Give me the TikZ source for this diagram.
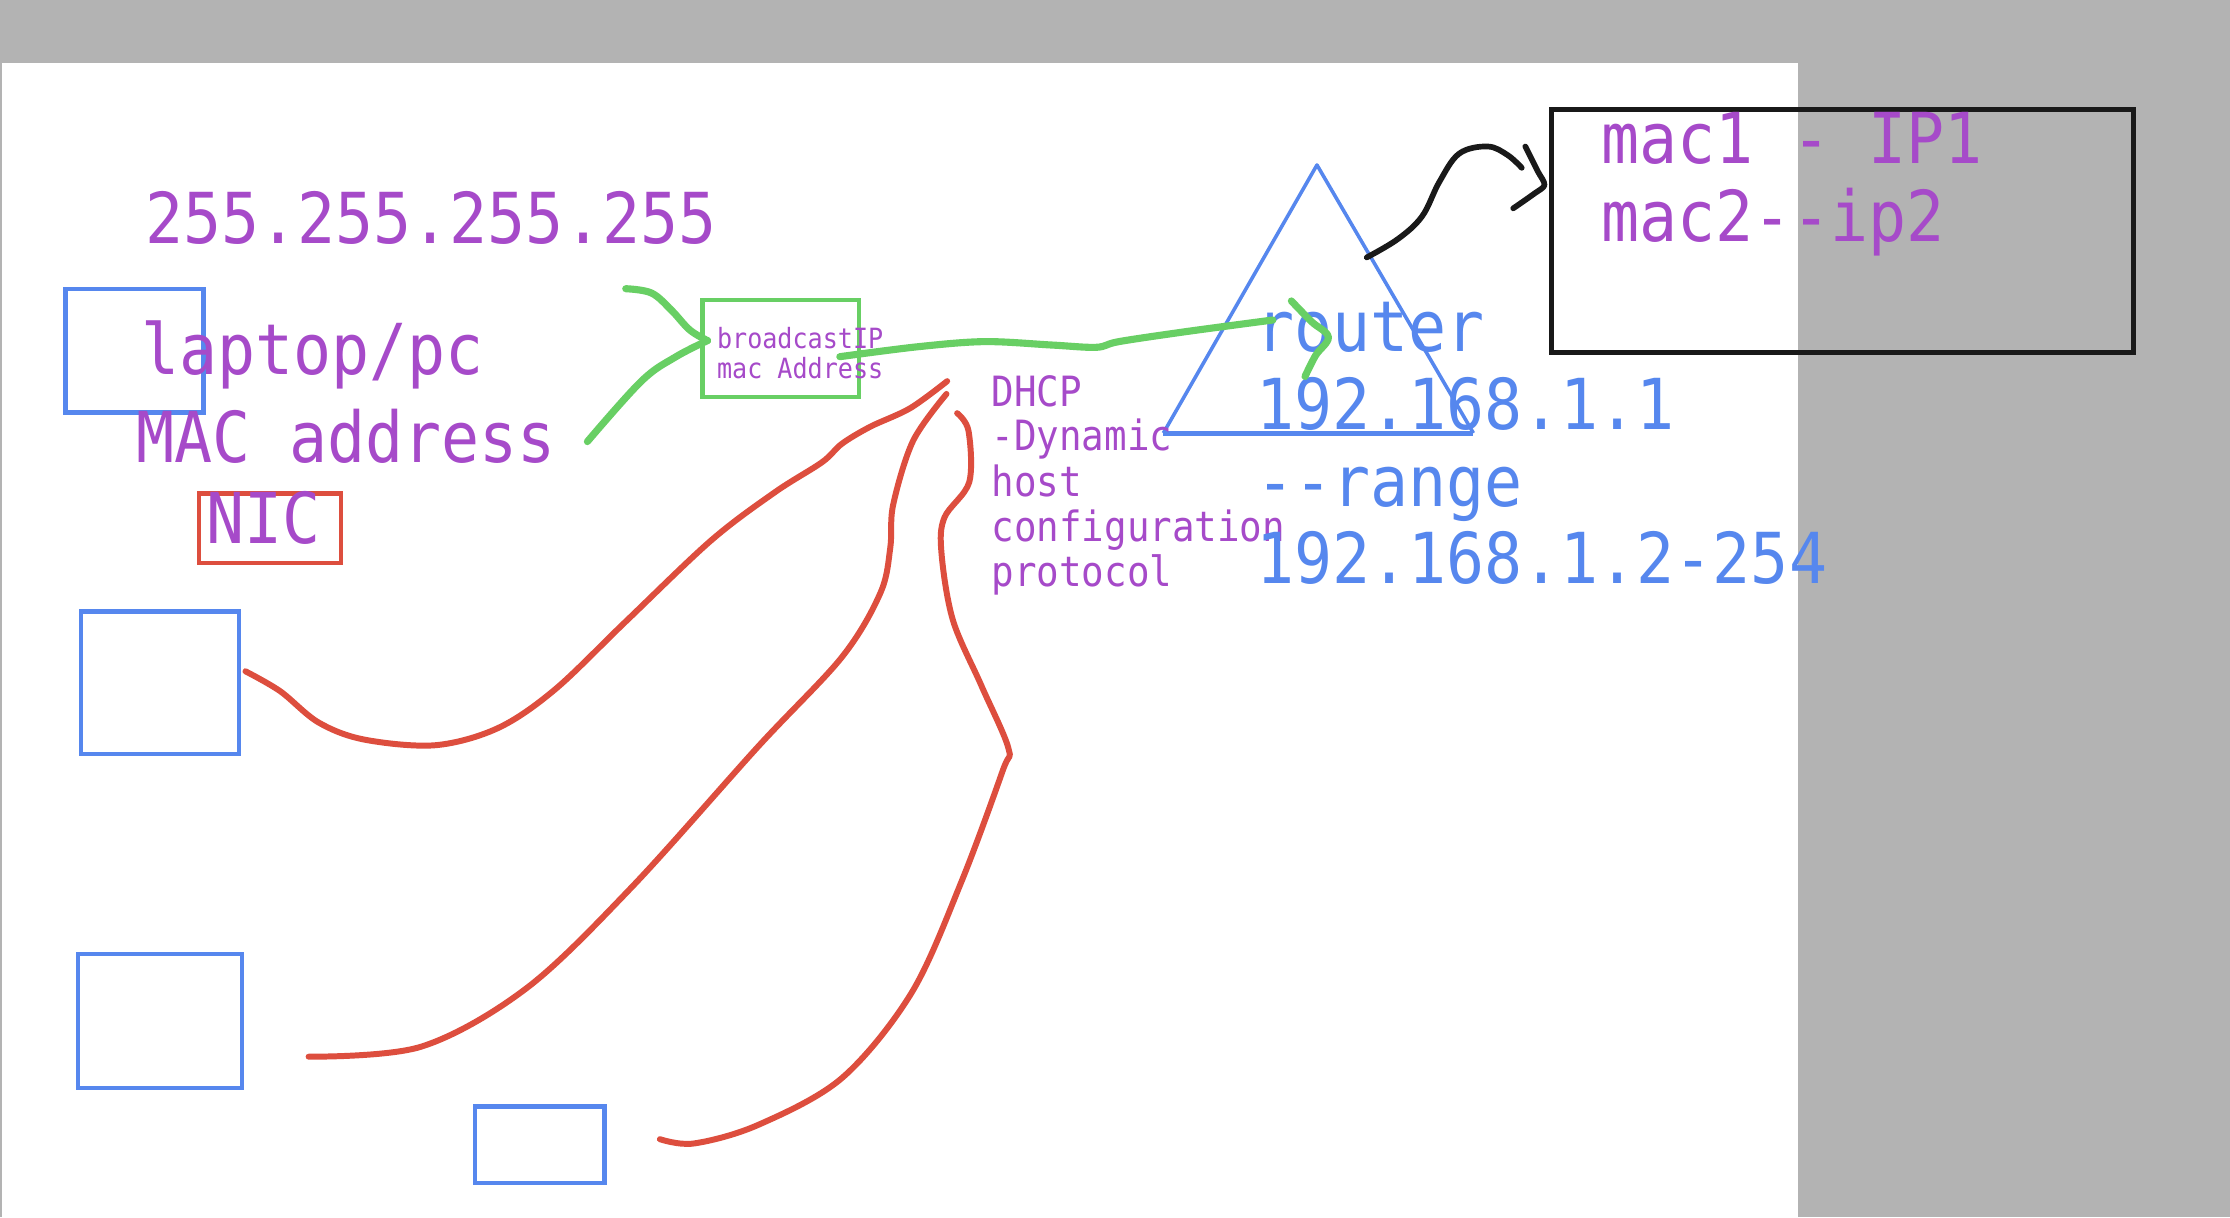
\documentclass[tikz,border=0pt]{standalone}
\usepackage{fontspec}
\newfontfamily\skf[FakeStretch=0.9]{DejaVu Sans Mono}
\definecolor{bgray}{RGB}{179,179,179}
\definecolor{skpurple}{RGB}{166,74,201}
\definecolor{skblue}{RGB}{86,135,238}
\definecolor{skred}{RGB}{221,78,62}
\definecolor{skgreen}{RGB}{104,207,100}
\definecolor{skblack}{RGB}{25,25,25}
\begin{document}
\begin{tikzpicture}[x=1pt,y=-1pt,
  bigtxt/.style={font=\skf\fontsize{49.4pt}{54pt}\selectfont, anchor=base west, inner sep=0pt, text=skpurple},
  medtxt/.style={font=\skf\fontsize{29.3pt}{32pt}\selectfont, anchor=base west, inner sep=0pt, text=skpurple},
  smalltxt/.style={font=\skf\fontsize{19.6pt}{22pt}\selectfont, anchor=base west, inner sep=0pt, text=skpurple},
  bluebox/.style={draw=skblue, line width=3pt, inner sep=0pt},
  redbox/.style={draw=skred, line width=3pt, inner sep=0pt},
  greenbox/.style={draw=skgreen, line width=3pt, inner sep=0pt},
  blackbox/.style={draw=skblack, line width=3.5pt, inner sep=0pt},
  redline/.style={draw=skred, line width=4.2pt, line cap=round, line join=round},
  greenline/.style={draw=skgreen, line width=5pt, line cap=round, line join=round},
  blackline/.style={draw=skblack, line width=4pt, line cap=round, line join=round},
  triline/.style={draw=skblue, line width=2.5pt, line join=round}
]
\useasboundingbox (0,0) rectangle (1568,856);
% canvas
\fill[bgray] (0,0) rectangle (1568,856);
\fill[white] (1.5,44) rectangle (1264,856);

% boxes
\node[bluebox, minimum width=97pt, minimum height=87pt] (pc1) at (94.5,246.5) {};
\node[bluebox, minimum width=111pt, minimum height=100pt] (pc2) at (112.5,480) {};
\node[bluebox, minimum width=115pt, minimum height=94pt] (pc3) at (112.5,718) {};
\node[bluebox, minimum width=91pt, minimum height=54pt] (pc4) at (379.5,805) {};
\node[redbox, minimum width=100pt, minimum height=49pt] (nicbox) at (190,371.5) {};
\node[greenbox, minimum width=110pt, minimum height=68pt] (gbox) at (549,245) {};
\node[blackbox, minimum width=409pt, minimum height=171pt] (table) at (1295.5,162.5) {};

% router triangle
\coordinate (apex) at (926,116);
\coordinate (tbl) at (818,304.5);
\coordinate (tbr) at (1036,304.5);
\draw[triline] (tbl) -- (apex) -- (tbr);
\draw[draw=skblue, line width=3.5pt] (tbl) -- (tbr);

% texts
\node[bigtxt] (bcast) at (102,171) {255.255.255.255};
\node[bigtxt] (laptop) at (99,263) {laptop/pc};
\node[bigtxt] (macaddr) at (96,325) {MAC address};
\node[bigtxt] (nic) at (145,382) {NIC};
\node[smalltxt] (bc1) at (504,245) {broadcastIP};
\node[smalltxt] (bc2) at (504,266) {mac Address};
\node[medtxt] (d1) at (697,285.5) {DHCP};
\node[medtxt] (d2) at (697,316.5) {-Dynamic};
\node[medtxt] (d3) at (697,349) {host};
\node[medtxt] (d4) at (697,381) {configuration};
\node[medtxt] (d5) at (697,412.5) {protocol};
\node[bigtxt, text=skblue] (r1) at (883,247.5) {router};
\node[bigtxt, text=skblue] (r2) at (883,302) {192.168.1.1};
\node[bigtxt, text=skblue] (r3) at (883,356) {-{}-range};
\node[bigtxt, text=skblue] (r4) at (883,410) {192.168.1.2-254};
\node[bigtxt] (m1) at (1126,115) {mac1 - IP1};
\node[bigtxt] (m2) at (1126,169.5) {mac2-{}-ip2};

% green connectors
\coordinate (g1s) at (440,203);
\coordinate (g1m) at (497.5,239.5);
\coordinate (g1e) at (413,310.5);
\draw[greenline] plot[smooth, tension=0.6] coordinates {(g1s) (458,206) (472,218) (485,232) (g1m)};
\draw[greenline] plot[smooth, tension=0.6] coordinates {(g1m) (475,251) (451,268) (g1e)};
\coordinate (g2s) at (590.5,250.8);
\coordinate (g2e) at (895,225);
\draw[greenline] plot[smooth, tension=0.55] coordinates {(g2s) (645.4,243.8) (692.4,240.2) (739.5,242.6) (770.9,244.2) (786.7,240.2) (833.7,233.2) (g2e)};
\coordinate (g3s) at (908,211.6);
\coordinate (g3e) at (917.6,264.7);
\draw[greenline] plot[smooth, tension=0.6] coordinates {(g3s) (922,226) (934,237) (925,250) (g3e)};

% red connectors
\coordinate (rA) at (172.6,472);
\coordinate (rAe) at (666,268);
\draw[redline] plot[smooth, tension=0.55] coordinates {(rA) (197,486) (224,508) (256,520) (306,524) (350,512) (390,485) (440,437) (500,380) (545,346) (578,325) (592,312) (612,300) (640,287) (rAe)};
\coordinate (rB) at (217,743);
\coordinate (rBe) at (665.5,277);
\draw[redline] plot[smooth, tension=0.55] coordinates {(rB) (296,736) (370,695) (444,624) (533,525) (592,462) (619,417) (626,385) (628,355) (642,310) (rBe)};
\coordinate (rC) at (464,801);
\coordinate (rCe) at (673,290.5);
\draw[redline] plot[smooth, tension=0.55] coordinates {(rCe) (681,303) (681.5,339) (664,364) (662,389) (670,436) (690,482) (709,526) (705,542) (676,620) (641,698) (592,758) (533,791) (488,804) (rC)};

% black connector
\coordinate (bs) at (961,181);
\coordinate (be) at (1070,118);
\draw[blackline] plot[smooth, tension=0.6] coordinates {(bs) (983,168) (1000,152) (1012,128) (1026,108) (1046,103) (1060,109) (be)};
\coordinate (hs) at (1072.5,103);
\coordinate (he) at (1064,146.5);
\draw[blackline] plot[smooth, tension=0.5] coordinates {(hs) (1081,120) (1086,130) (1079,136) (he)};
\end{tikzpicture}
\end{document}
